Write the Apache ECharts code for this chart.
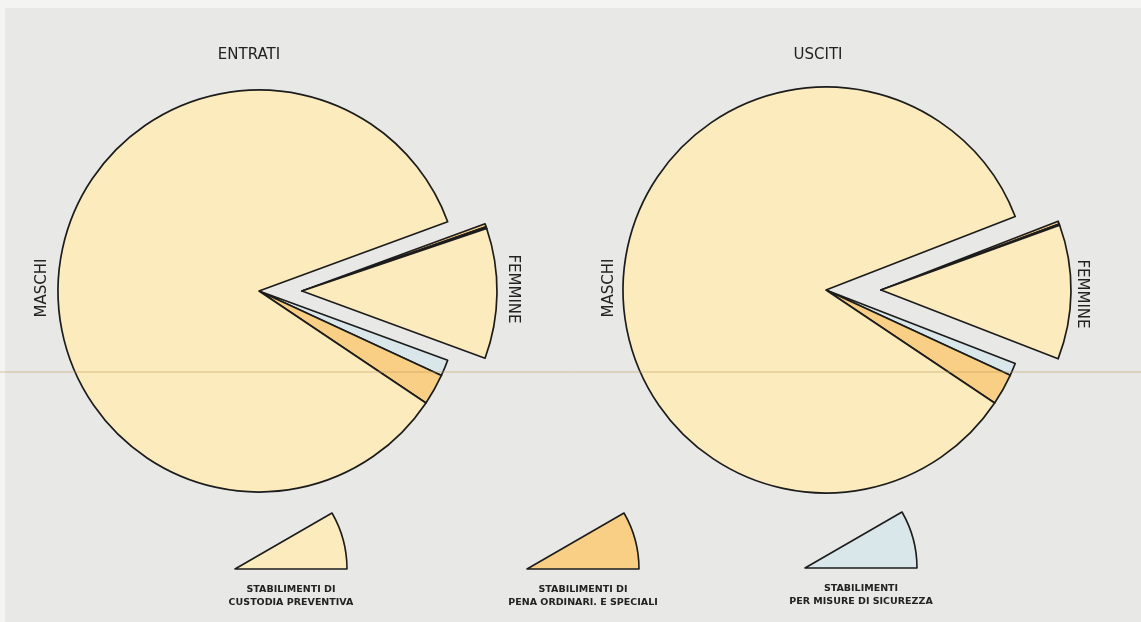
<!DOCTYPE html>
<html>
<head>
<meta charset="utf-8">
<script src="https://cdn.jsdelivr.net/npm/echarts@6/dist/echarts.min.js"></script>
<style>
  html, body { margin: 0; padding: 0; background: #f4f4f2; }
  #chart { width: 1141px; height: 622px; }
</style>
</head>
<body>
<div id="chart"></div>
<script>
// Establishment types (shared by both pies), in order: custodia, pena, sicurezza
const categories = [
  'STABILIMENTI DI\nCUSTODIA PREVENTIVA',
  'STABILIMENTI DI\nPENA ORDINARI. E SPECIALI',
  'STABILIMENTI\nPER MISURE DI SICUREZZA'
];
const panelTitles = ['ENTRATI', 'USCITI'];
const groupLabels = ['MASCHI', 'FEMMINE'];

// Shares (%) by establishment type: [custodia, pena, sicurezza]
const entratiMaschi  = [85.0, 2.5, 1.3];
const entratiFemmine = [10.8, 0.25, 0.15];
const uscitiMaschi   = [84.7, 2.5, 1.0];
const uscitiFemmine  = [11.45, 0.25, 0.1];

const COLORS = ['#fcebbd', '#f8cf84', '#d9e6ea'];
const INK = '#1c1c1c';
const CLEAR = { color: 'rgba(0,0,0,0)', borderWidth: 0 };

const sum = a => a.reduce((s, v) => s + v, 0);

const basePie = {
  type: 'pie',
  silent: true,
  clockwise: true,
  animation: false,
  label: { show: false },
  labelLine: { show: false },
  emphasis: { disabled: true },
  itemStyle: { borderColor: INK, borderWidth: 1.7, borderJoin: 'round' }
};

// One panel: the male pie with the female wedge pulled out to the right
function panelSeries(cx, cy, r, rF, pull, maschi, femmine) {
  const fTot = sum(femmine);
  const mTot = sum(maschi);
  const start = fTot / (fTot + mTot) * 180; // female wedge centred on 3 o'clock
  const male = Object.assign({}, basePie, {
    center: [cx, cy], radius: r, startAngle: start,
    data: [
      { name: 'femmine', value: fTot, itemStyle: CLEAR },
      { name: categories[2], value: maschi[2], itemStyle: { color: COLORS[2] } },
      { name: categories[1], value: maschi[1], itemStyle: { color: COLORS[1] } },
      { name: categories[0], value: maschi[0], itemStyle: { color: COLORS[0] } }
    ]
  });
  const female = Object.assign({}, basePie, {
    center: [cx + pull, cy], radius: rF, startAngle: start,
    data: [
      { name: categories[1], value: femmine[1], itemStyle: { color: COLORS[1] } },
      { name: categories[2], value: femmine[2], itemStyle: { color: COLORS[2] } },
      { name: categories[0], value: femmine[0], itemStyle: { color: COLORS[0] } },
      { name: 'maschi', value: mTot, itemStyle: CLEAR }
    ]
  });
  return [male, female];
}

const TXT = 'DejaVu Sans';
function label(text, x, y, size, rot, weight) {
  return {
    type: 'text', x: x, y: y, rotation: rot || 0, z: 10,
    style: {
      text: text, fill: '#222', font: (weight || 'normal') + ' ' + size + 'px "' + TXT + '"',
      align: 'center', verticalAlign: 'middle', lineHeight: size + 4
    }
  };
}

// Legend key: a small sector per establishment type, caption below
function legendKey(i, cx, cy) {
  return [
    {
      type: 'sector', z: 5,
      shape: { cx: cx, cy: cy, r: 112, r0: 0, startAngle: -30 * Math.PI / 180, endAngle: 0, clockwise: true },
      style: { fill: COLORS[i], stroke: INK, lineWidth: 1.6, lineJoin: 'round' }
    },
    label(categories[i], cx + 56, cy + 27, 9.5, 0, 'bold')
  ];
}

const graphics = [
  // sheet
  { type: 'rect', z: -10, shape: { x: 5, y: 8, width: 1141, height: 622 }, style: { fill: '#e8e8e6' } },
  // faint fold crease across the sheet
  { type: 'line', z: 20, shape: { x1: 0, y1: 372, x2: 1141, y2: 372 }, style: { stroke: 'rgba(190,150,90,0.55)', lineWidth: 1 } },
  label(panelTitles[0], 249, 55, 15),
  label(panelTitles[1], 818, 55, 15),
  label(groupLabels[0], 42, 288, 15, Math.PI / 2),
  label(groupLabels[1], 513, 289, 15, -Math.PI / 2),
  label(groupLabels[0], 609, 288, 15, Math.PI / 2),
  label(groupLabels[1], 1082, 294, 15, -Math.PI / 2)
].concat(legendKey(0, 235, 569), legendKey(1, 527, 569), legendKey(2, 805, 568));

const chart = echarts.init(document.getElementById('chart'), null, { renderer: 'canvas' });
chart.setOption({
  backgroundColor: '#f4f4f2',
  animation: false,
  series: [].concat(
    panelSeries(259, 291, 201, 195, 43, entratiMaschi, entratiFemmine),
    panelSeries(826, 290, 203, 190, 55, uscitiMaschi, uscitiFemmine)
  ),
  graphic: graphics
});
</script>
</body>
</html>
